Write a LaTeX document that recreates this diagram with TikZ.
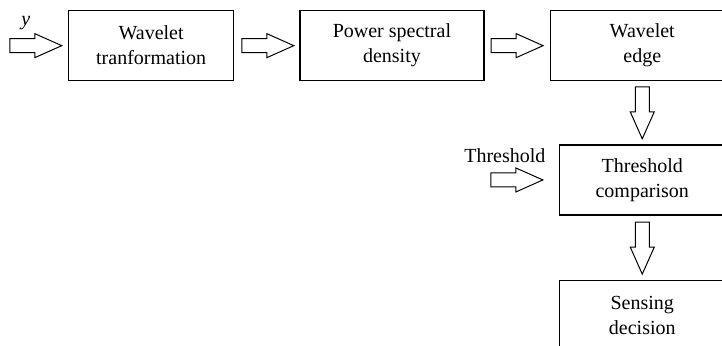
\documentclass[tikz,border=0pt]{standalone}
\usepackage{fontspec}
\setmainfont{Liberation Serif}
\usetikzlibrary{shapes,arrows,positioning,calc}
\tikzstyle{block} = [draw, line width=0.65pt, minimum height=35pt, align=center, inner sep=2pt]
\tikzstyle{barrow} = [draw, single arrow, line width=0.5pt, minimum height=26pt, minimum width=11.5pt, single arrow head extend=2.5pt, single arrow tip angle=48, inner sep=3.25pt]

\begin{document}
\begin{tikzpicture}[node distance=32.5pt, font=\fontsize{10}{12.5}\rmfamily\selectfont]

\node[block, minimum width=82.5pt] (wt) {Wavelet\\tranformation};
\node[block, minimum width=92pt] (psd) [right=of wt] {Power spectral\\density};
\node[block, minimum width=92pt] (we) [right=of psd] {Wavelet\\edge};
\node[block, minimum width=82.5pt] (tc) [below=31.5pt of we] {Threshold\\comparison};
\node[block, minimum width=82.5pt] (sd) [below=32pt of tc] {Sensing\\decision};

\node[barrow, anchor=tip] (a0) at ($(wt.west)+(-2.5pt,0)$) {};
\node[barrow, anchor=tail] (a1) at ($(wt.east)+(3.5pt,0)$) {};
\node[barrow, anchor=tail] (a2) at ($(psd.east)+(3pt,0)$) {};
\node[barrow, rotate=-90, anchor=tail] (a3) at ($(we.south)+(0,-2.5pt)$) {};
\node[barrow, rotate=-90, anchor=tail] (a4) at ($(tc.south)+(0,-3pt)$) {};
\node[barrow, anchor=tip] (a5) at ($(tc.west)+(-7.5pt,0)$) {};

\node (y) at ($(a0.tail)+(8.25pt,11.5pt)$) {\textit{y}};
\node (thr) at ($(a5.tail)+(7.25pt,12pt)$) {Threshold};

\pgfresetboundingbox
\useasboundingbox ($(wt.north west)+(-34pt,5pt)$) rectangle ++(361pt,-172.5pt);

\end{tikzpicture}
\end{document}
